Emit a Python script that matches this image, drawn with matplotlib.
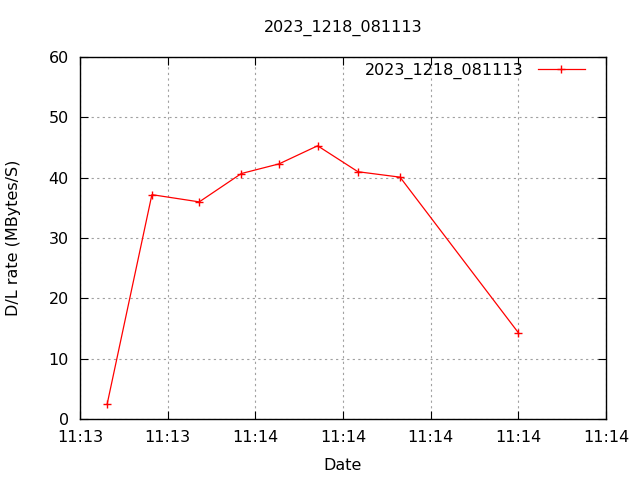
import datetime as dt
import matplotlib
matplotlib.use("Agg")
import matplotlib.pyplot as plt
import matplotlib.dates as mdates

# sample times (seconds past 11:13:00) and download rates
secs = [43.1, 48.2, 53.6, 58.4, 62.7, 67.1, 71.7, 76.5, 90.0]
rate = [2.5, 37.2, 36.0, 40.7, 42.3, 45.3, 41.0, 40.1, 14.3]
run_name = "2023_1218_081113"

base = dt.datetime(2023, 12, 18, 11, 13, 0)
times = [base + dt.timedelta(seconds=s) for s in secs]

plt.rcParams['font.family'] = ['DejaVu Sans']
fig = plt.figure(figsize=(6.4, 4.8), dpi=100)
ax = fig.add_axes([0.125, 0.127, 0.822, 0.754])

ax.plot(times, rate, color='red', lw=0.9, marker='+', ms=6, mew=1,
        label=run_name)

ax.set_xlim(base + dt.timedelta(seconds=40), base + dt.timedelta(seconds=100))
ax.set_ylim(0, 60)
ax.set_yticks(range(0, 61, 10))
ax.xaxis.set_major_locator(mdates.SecondLocator(bysecond=range(0, 60, 10)))
ax.xaxis.set_major_formatter(mdates.DateFormatter('%H:%M'))

ax.grid(True, color='#a0a0a0', linestyle=(0, (2, 3)), lw=0.8)
ax.tick_params(direction='in', top=True, right=True, length=6, labelsize=11.5,
               pad=8)
for s in ax.spines.values():
    s.set_linewidth(1.0)

ax.set_xlabel('Date', fontsize=11.5, labelpad=9)
ax.set_ylabel('D/L rate (MBytes/S)', fontsize=11.5, labelpad=20)
ax.set_title(run_name, fontsize=11.5, pad=18)

leg = ax.legend(loc='upper right', frameon=False, markerfirst=False,
                fontsize=11.5, handlelength=3.0, handletextpad=0.9,
                borderaxespad=0.3, bbox_to_anchor=(0.982, 1.016))

fig.savefig('out.png', dpi=100)
